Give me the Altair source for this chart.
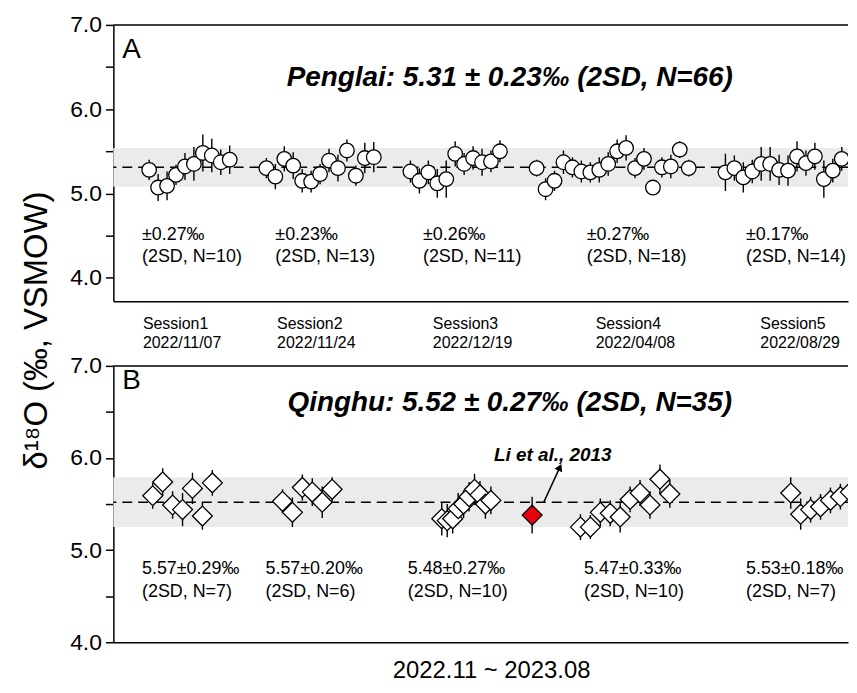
import altair as alt
import pandas as pd

FONT = "Liberation Sans"

# ---------------- Panel A : Penglai (circles) ----------------
A_MEAN, A_2SD = 5.31, 0.23
A_STARTS = [4.0, 17.1, 33.2, 47.3, 68.4]
A_STEP = 1.0
A_VALUES = [
    [5.28, 5.07, 5.09, 5.22, 5.32, 5.35, 5.48, 5.45, 5.37, 5.40],
    [5.30, 5.20, 5.41, 5.33, 5.15, 5.14, 5.23, 5.39, 5.30, 5.51, 5.21, 5.42, 5.43],
    [5.26, 5.15, 5.25, 5.12, 5.17, 5.47, 5.35, 5.42, 5.37, 5.38, 5.50],
    [5.30, 5.05, 5.15, 5.37, 5.31, 5.26, 5.25, 5.28, 5.35, 5.50, 5.54, 5.30, 5.41, 5.07, 5.31, 5.32, 5.52, 5.30],
    [5.25, 5.30, 5.19, 5.26, 5.35, 5.35, 5.28, 5.27, 5.44, 5.36, 5.44, 5.17, 5.27, 5.41],
]
A_ERRORS = [
    [0.12, 0.16, 0.17, 0.12, 0.16, 0.20, 0.22, 0.20, 0.15, 0.17],
    [0.12, 0.15, 0.15, 0.16, 0.14, 0.13, 0.12, 0.14, 0.16, 0.13, 0.12, 0.18, 0.18],
    [0.13, 0.15, 0.14, 0.17, 0.22, 0.15, 0.13, 0.14, 0.16, 0.13, 0.13],
    [0.10, 0.13, 0.12, 0.14, 0.12, 0.13, 0.12, 0.15, 0.14, 0.14, 0.15, 0.12, 0.13, 0.09, 0.12, 0.14, 0.10, 0.10],
    [0.22, 0.15, 0.18, 0.14, 0.20, 0.20, 0.18, 0.18, 0.18, 0.15, 0.16, 0.22, 0.14, 0.14],
]
A_SD_LABELS = ["±0.27‰", "±0.23‰", "±0.26‰", "±0.27‰", "±0.17‰"]
A_N_LABELS = ["(2SD, N=10)", "(2SD, N=13)", "(2SD, N=11)", "(2SD, N=18)", "(2SD, N=14)"]
A_LABEL_X = [3.2, 18.1, 34.6, 52.9, 70.7]

SESSIONS = ["Session1", "Session2", "Session3", "Session4", "Session5"]
DATES = ["2022/11/07", "2022/11/24", "2022/12/19", "2022/04/08", "2022/08/29"]
SESSION_X = [3.3, 18.3, 35.7, 53.9, 72.3]

# ---------------- Panel B : Qinghu (diamonds) ----------------
B_MEAN, B_2SD = 5.52, 0.27
B_STARTS = [4.4, 18.9, 36.7, 52.2, 75.7]
B_STEPS = [1.11, 1.11, 0.61, 1.11, 1.11]
B_VALUES = [
    [5.59, 5.74, 5.49, 5.44, 5.67, 5.37, 5.73],
    [5.53, 5.41, 5.68, 5.63, 5.52, 5.66],
    [5.34, 5.32, 5.34, 5.45, 5.50, 5.58, 5.66, 5.60, 5.50, 5.54],
    [5.25, 5.25, 5.41, 5.40, 5.36, 5.55, 5.62, 5.49, 5.77, 5.61],
    [5.62, 5.39, 5.44, 5.47, 5.54, 5.58, 5.63],
]
B_ERRORS = [
    [0.14, 0.15, 0.15, 0.18, 0.17, 0.15, 0.14],
    [0.13, 0.16, 0.14, 0.15, 0.17, 0.13],
    [0.18, 0.18, 0.16, 0.17, 0.15, 0.16, 0.17, 0.15, 0.16, 0.15],
    [0.14, 0.13, 0.15, 0.14, 0.17, 0.14, 0.14, 0.15, 0.16, 0.15],
    [0.17, 0.17, 0.14, 0.14, 0.14, 0.14, 0.14],
]
B_MEAN_LABELS = ["5.57±0.29‰", "5.57±0.20‰", "5.48±0.27‰", "5.47±0.33‰", "5.53±0.18‰"]
B_N_LABELS = ["(2SD, N=7)", "(2SD, N=6)", "(2SD, N=10)", "(2SD, N=10)", "(2SD, N=7)"]
B_LABEL_X = [3.2, 17.0, 32.9, 52.6, 70.7]

LI_X, LI_VALUE, LI_ERR = 46.8, 5.38, 0.20
ARROW_X = [48.1, 49.9]
ARROW_Y = [5.52, 5.90]

X_DOMAIN = [0, 82.1]
A_DOMAIN = [3.72, 7.0]
B_DOMAIN = [4.0, 7.0]
W = 739


def points_frame(starts, steps, values, errors):
    rows = []
    for k, (vals, errs) in enumerate(zip(values, errors)):
        for i, (v, e) in enumerate(zip(vals, errs)):
            rows.append({"x": starts[k] + steps[k] * i, "v": v, "lo": v - e, "hi": v + e})
    return pd.DataFrame(rows)


dfA = points_frame(A_STARTS, [A_STEP] * 5, A_VALUES, A_ERRORS)
dfB = points_frame(B_STARTS, B_STEPS, B_VALUES, B_ERRORS)

xscale = alt.Scale(domain=X_DOMAIN, nice=False, zero=False)


def x_axis(title=None):
    if title:
        return alt.Axis(labels=False, ticks=False, grid=False, title=title,
                        titleFontSize=24, titleFontWeight="normal", titlePadding=16,
                        titleX=380, titleAlign="center")
    return alt.Axis(labels=False, ticks=False, grid=False, title=None)


def y_axis(with_title):
    kw = dict(values=[4, 4.5, 5, 5.5, 6, 6.5, 7],
              labelExpr="datum.value % 1 == 0 ? format(datum.value, '.1f') : ''",
              tickSize=8, grid=False)
    if with_title:
        kw.update(title="δ¹⁸O (‰, VSMOW)", titleAngle=270, titleAlign="center",
                  titleBaseline="alphabetic", titleX=-67, titleY=307,
                  titleFontSize=33, titleFontWeight="normal")
    else:
        kw.update(title=None)
    return alt.Axis(**kw)


def panel(df, mean, sd, ydom, height, letter, title_text, title_y, letter_y,
          ann_rows, shape, size, xtitle, ytitle, extra_layers=()):
    ys = alt.Scale(domain=ydom, nice=False, zero=False)
    ya = y_axis(ytitle)
    xa = x_axis(xtitle)

    def X(f):
        return alt.X(f, type="quantitative", scale=xscale, axis=xa)

    def Y(f):
        return alt.Y(f, type="quantitative", scale=ys, axis=ya)

    band = alt.Chart(pd.DataFrame({"lo": [mean - sd], "hi": [mean + sd]})).mark_rect(
        color="#ebebeb").encode(y=Y("lo"), y2="hi")
    dash = alt.Chart(pd.DataFrame({"m": [mean]})).mark_rule(
        color="black", strokeDash=[10, 6], strokeWidth=1.5).encode(y=Y("m"))
    top = alt.Chart(pd.DataFrame({"t": [ydom[1]]})).mark_rule(
        color="black", strokeWidth=1.5).encode(y=Y("t"))
    err = alt.Chart(df).mark_rule(color="black", strokeWidth=1.4, clip=True).encode(
        x=X("x"), y=Y("lo"), y2="hi")
    pts = alt.Chart(df).mark_point(shape=shape, filled=True, fill="white", stroke="black",
                                   strokeWidth=1.3, size=size, opacity=1, clip=True).encode(
        x=X("x"), y=Y("v"))
    ann = alt.Chart(pd.DataFrame(ann_rows)).mark_text(
        align="left", baseline="middle", font=FONT, color="black").encode(
        x=X("x"), y=Y("y"), text="t:N",
        size=alt.Size("fs:Q", scale=None, legend=None))
    ttl = alt.Chart(pd.DataFrame({"x": [44.3], "y": [title_y], "t": [title_text]})).mark_text(
        align="center", baseline="middle", font=FONT, fontSize=28, fontWeight="bold",
        fontStyle="italic", color="black").encode(x=X("x"), y=Y("y"), text="t:N")
    let = alt.Chart(pd.DataFrame({"x": [1.0], "y": [letter_y], "t": [letter]})).mark_text(
        align="left", baseline="middle", font=FONT, fontSize=28, color="black").encode(
        x=X("x"), y=Y("y"), text="t:N")
    layers = [band, dash, err] + [l(X, Y) for l in extra_layers] + [pts, ann, ttl, let, top]
    return alt.layer(*layers).properties(width=W, height=height)


# annotation rows for A
annA = []
for k in range(5):
    annA.append({"x": A_LABEL_X[k], "y": 4.505, "t": A_SD_LABELS[k], "fs": 18})
    annA.append({"x": A_LABEL_X[k], "y": 4.245, "t": A_N_LABELS[k], "fs": 18})
    annA.append({"x": SESSION_X[k], "y": 3.455, "t": SESSIONS[k], "fs": 16})
    annA.append({"x": SESSION_X[k], "y": 3.22, "t": DATES[k], "fs": 16})

annB = []
for k in range(5):
    annB.append({"x": B_LABEL_X[k], "y": 4.79, "t": B_MEAN_LABELS[k], "fs": 18})
    annB.append({"x": B_LABEL_X[k], "y": 4.545, "t": B_N_LABELS[k], "fs": 18})


def li_err(X, Y):
    return alt.Chart(pd.DataFrame({"x": [LI_X], "lo": [LI_VALUE - LI_ERR], "hi": [LI_VALUE + LI_ERR]})).mark_rule(
        color="black", strokeWidth=1.4).encode(x=X("x"), y=Y("lo"), y2="hi")


def li_arrow(X, Y):
    return alt.Chart(pd.DataFrame({"x": ARROW_X, "y": ARROW_Y})).mark_line(
        color="black", strokeWidth=1.6).encode(x=X("x"), y=Y("y"))


def li_head(X, Y):
    return alt.Chart(pd.DataFrame({"x": [ARROW_X[1]], "y": [ARROW_Y[1]]})).mark_point(
        shape="triangle-up", angle=25, filled=True, color="black", size=70, opacity=1).encode(
        x=X("x"), y=Y("y"))


def li_point(X, Y):
    return alt.Chart(pd.DataFrame({"x": [LI_X], "v": [LI_VALUE]})).mark_point(
        shape="diamond", filled=True, fill="#e8000b", stroke="black", strokeWidth=1.3,
        size=400, opacity=1).encode(x=X("x"), y=Y("v"))


def li_text(X, Y):
    return alt.Chart(pd.DataFrame({"x": [49.1], "y": [6.03], "t": ["Li et al., 2013"]})).mark_text(
        align="center", baseline="middle", font=FONT, fontSize=19, fontWeight="bold",
        fontStyle="italic", color="black").encode(x=X("x"), y=Y("y"), text="t:N")


panelA = panel(dfA, A_MEAN, A_2SD, A_DOMAIN, 278, "A",
               "Penglai: 5.31 ± 0.23‰ (2SD, N=66)", 6.37, 6.70, annA,
               "circle", 215, None, True)
panelB = panel(dfB, B_MEAN, B_2SD, B_DOMAIN, 278, "B",
               "Qinghu: 5.52 ± 0.27‰ (2SD, N=35)", 6.60, 6.84, annB,
               "diamond", 400, "2022.11 ~ 2023.08", False,
               extra_layers=(li_err, li_arrow, li_head, li_point, li_text))

chart = alt.vconcat(panelA, panelB, spacing=65, bounds="flush").properties(
    padding={"left": 13, "top": 4, "right": 0, "bottom": 0}
).configure_view(stroke=None).configure_axis(
    domainColor="black", domainWidth=1.5, tickColor="black", tickWidth=1.5,
    labelColor="black", titleColor="black", labelFont=FONT, titleFont=FONT,
    labelFontSize=23, labelPadding=4
)

chart.save("out.html", embed_options={"renderer": "svg", "actions": False})
